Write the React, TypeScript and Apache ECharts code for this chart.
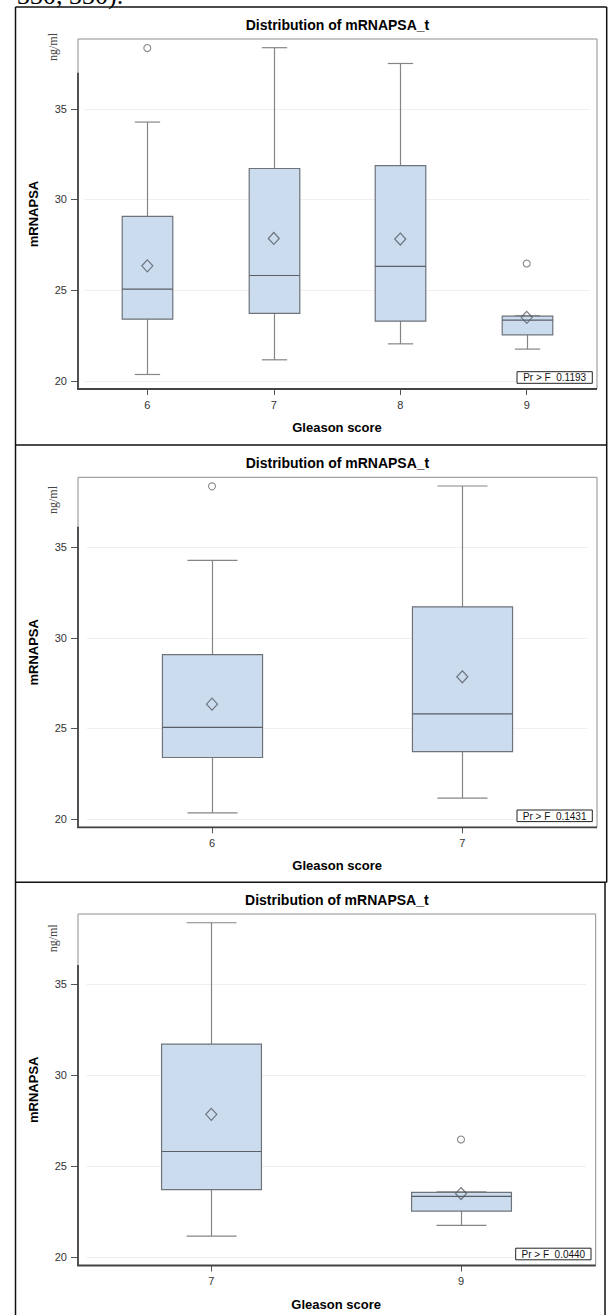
import React, { useEffect, useRef } from 'react';
import * as echarts from 'echarts';

// ---------- data ----------
const panel1Categories = ['6', '7', '8', '9'];
const panel2Categories = ['6', '7'];
const panel3Categories = ['7', '9'];

// [lower whisker, Q1, median, Q3, upper whisker]
const box6 = [20.35, 23.4, 25.06, 29.07, 34.27];
const box7 = [21.16, 23.72, 25.81, 31.71, 38.37];
const box8 = [22.04, 23.29, 26.31, 31.87, 37.5];
const box9 = [21.75, 22.54, 23.35, 23.57, 23.6];

const mean6 = 26.34;
const mean7 = 27.85;
const mean8 = 27.82;
const mean9 = 23.5;

const outliers6 = [38.35];
const outliers7: number[] = [];
const outliers8: number[] = [];
const outliers9 = [26.47];

const prF = ['0.1193', '0.1431', '0.0440'];
const yTicks = [20, 25, 30, 35];
const yMin = 19.55;
const yMax = 38.85;

const titleText = 'Distribution of mRNAPSA_t';
const xName = 'Gleason score';
const yName = 'mRNAPSA';
const unitText = 'ng/ml';
const topFragment = '330, 330).';

const groups: Record<string, { box: number[]; mean: number; outliers: number[] }> = {
  '6': { box: box6, mean: mean6, outliers: outliers6 },
  '7': { box: box7, mean: mean7, outliers: outliers7 },
  '8': { box: box8, mean: mean8, outliers: outliers8 },
  '9': { box: box9, mean: mean9, outliers: outliers9 },
};

// ---------- layout ----------
const FONT = '"Liberation Sans", Arial, Helvetica, sans-serif';
const SERIF = '"Liberation Serif", "Times New Roman", serif';

const layouts = [
  { cats: panel1Categories, gridLeft: 84.07, gridWidth: 505.9, top: 39, height: 350, frameRight: 597, darkTop: 72.7, unitY: 47, titleY: 25 },
  { cats: panel2Categories, gridLeft: 86.85, gridWidth: 500.6, top: 477.3, height: 350, frameRight: 597, darkTop: 526.7, unitY: 500, titleY: 462.7 },
  { cats: panel3Categories, gridLeft: 86.45, gridWidth: 499.4, top: 914, height: 351.5, frameRight: 595.7, darkTop: 965, unitY: 938.3, titleY: 900 },
];
const FRAME_LEFT = 78;

const BOX_FILL = '#CBDCEE';
const BOX_EDGE = '#6F737A';
const WHISKER = '#858585';
const MEDIAN = '#5A5E66';

function renderBox(params: any, api: any) {
  const idx = api.value(0);
  const low = api.coord([idx, api.value(1)]);
  const q1 = api.coord([idx, api.value(2)]);
  const med = api.coord([idx, api.value(3)]);
  const q3 = api.coord([idx, api.value(4)]);
  const high = api.coord([idx, api.value(5)]);
  const band = api.size([1, 0])[0];
  const bw = band * 0.4;
  const cw = band * 0.2;
  const x = Math.round(low[0]) + 0.5;
  const wStyle = { stroke: WHISKER, lineWidth: 1.2, fill: null };
  return {
    type: 'group',
    children: [
      { type: 'line', shape: { x1: x, y1: low[1], x2: x, y2: q1[1] }, style: wStyle },
      { type: 'line', shape: { x1: x, y1: q3[1], x2: x, y2: high[1] }, style: wStyle },
      {
        type: 'rect',
        shape: { x: x - bw / 2, y: q3[1], width: bw, height: q1[1] - q3[1] },
        style: { fill: BOX_FILL, stroke: BOX_EDGE, lineWidth: 1.2 },
      },
      { type: 'line', shape: { x1: x - bw / 2, y1: med[1], x2: x + bw / 2, y2: med[1] }, style: { stroke: MEDIAN, lineWidth: 1.2 } },
      { type: 'line', shape: { x1: x - cw / 2, y1: low[1], x2: x + cw / 2, y2: low[1] }, style: wStyle },
      { type: 'line', shape: { x1: x - cw / 2, y1: high[1], x2: x + cw / 2, y2: high[1] }, style: wStyle },
    ],
  };
}

export default function App() {
  const ref = useRef<HTMLDivElement>(null);

  useEffect(() => {
    if (!ref.current) return;
    const chart = echarts.init(ref.current, undefined, { renderer: 'svg' });

    const grid: any[] = [];
    const xAxis: any[] = [];
    const yAxis: any[] = [];
    const series: any[] = [];
    const graphic: any[] = [];

    layouts.forEach((L, i) => {
      const bottom = L.top + L.height;
      grid.push({ left: L.gridLeft, top: L.top, width: L.gridWidth, height: L.height, containLabel: false });
      xAxis.push({
        type: 'category',
        gridIndex: i,
        data: L.cats,
        boundaryGap: true,
        axisLine: { show: false },
        axisTick: { show: true, alignWithLabel: true, length: 6, lineStyle: { color: '#555', width: 1 } },
        axisLabel: { color: '#333', fontSize: 11, fontFamily: FONT, margin: 10 },
        splitLine: { show: false },
        name: xName,
        nameLocation: 'middle',
        nameGap: 32,
        nameTextStyle: { color: '#000', fontSize: 13, fontWeight: 'bold', fontFamily: FONT },
      });
      yAxis.push({
        type: 'value',
        gridIndex: i,
        min: yMin,
        max: yMax,
        offset: L.gridLeft - FRAME_LEFT,
        axisLine: { show: false },
        axisTick: { show: true, length: 7, customValues: yTicks, lineStyle: { color: '#555', width: 1 } },
        axisLabel: {
          color: '#333',
          fontSize: 11,
          fontFamily: FONT,
          margin: 11,
          customValues: yTicks,
          formatter: (v: number) => (Math.abs(v - Math.round(v / 5) * 5) < 1e-6 ? String(Math.round(v)) : ''),
        },
        splitLine: { show: true, lineStyle: { color: '#EFEFEF', width: 1 } },
        name: yName,
        nameLocation: 'middle',
        nameGap: 38,
        nameTextStyle: { color: '#000', fontSize: 13, fontWeight: 'bold', fontFamily: FONT },
      });

      const boxData = L.cats.map((c, k) => [k, ...groups[c].box]);
      const meanData = L.cats.map((c, k) => [k, groups[c].mean]);
      const outlierData: number[][] = [];
      L.cats.forEach((c, k) => groups[c].outliers.forEach((v) => outlierData.push([k, v])));

      series.push({
        type: 'custom',
        xAxisIndex: i,
        yAxisIndex: i,
        renderItem: renderBox,
        encode: { x: 0, y: [1, 2, 3, 4, 5] },
        data: boxData,
        z: 2,
      });
      series.push({
        type: 'scatter',
        xAxisIndex: i,
        yAxisIndex: i,
        symbol: 'diamond',
        symbolSize: [11, 12],
        itemStyle: { color: 'transparent', borderColor: '#555A62', borderWidth: 1.2 },
        data: meanData,
        z: 3,
      });
      series.push({
        type: 'scatter',
        xAxisIndex: i,
        yAxisIndex: i,
        symbol: 'circle',
        symbolSize: 7,
        itemStyle: { color: 'transparent', borderColor: '#6A6A6A', borderWidth: 1.1 },
        data: outlierData,
        z: 3,
      });

      // plot frame
      graphic.push({
        type: 'rect',
        z: 50,
        shape: { x: FRAME_LEFT, y: L.top, width: L.frameRight - FRAME_LEFT, height: L.height },
        style: { fill: 'none', stroke: '#8E8E8E', lineWidth: 1 },
      });
      graphic.push({
        type: 'line',
        z: 51,
        shape: { x1: FRAME_LEFT, y1: L.darkTop, x2: FRAME_LEFT, y2: bottom },
        style: { stroke: '#444', lineWidth: 1.8 },
      });
      graphic.push({
        type: 'line',
        z: 51,
        shape: { x1: FRAME_LEFT - 0.9, y1: bottom, x2: L.frameRight, y2: bottom },
        style: { stroke: '#444', lineWidth: 1.8 },
      });
      // title
      graphic.push({
        type: 'text',
        z: 60,
        x: (FRAME_LEFT + L.frameRight) / 2,
        y: L.titleY,
        style: { text: titleText, font: `bold 14px ${FONT}`, fill: '#000', align: 'center', verticalAlign: 'middle' },
      });
      // unit label
      graphic.push({
        type: 'text',
        z: 60,
        x: 53,
        y: L.unitY,
        rotation: Math.PI / 2,
        style: { text: unitText, font: `12px ${SERIF}`, fill: '#444', align: 'center', verticalAlign: 'middle' },
      });
      // Pr > F inset
      const bx = L.frameRight - 4.7 - 75.3;
      const by = bottom - 5.7 - 11.6;
      graphic.push({
        type: 'rect',
        z: 60,
        shape: { x: bx, y: by, width: 75.3, height: 11.6 },
        style: { fill: '#fff', stroke: '#222', lineWidth: 1 },
      });
      graphic.push({
        type: 'text',
        z: 61,
        x: bx + 75.3 / 2,
        y: by + 6.1,
        style: { text: `Pr > F  ${prF[i]}`, font: `10px ${FONT}`, fill: '#111', align: 'center', verticalAlign: 'middle' },
      });
    });

    // outer table borders
    const border = { stroke: '#111', lineWidth: 1.5 };
    const lines = [
      [15.5, 7, 606.7, 7],
      [15.5, 7, 15.5, 1315],
      [606.7, 7, 606.7, 882.3],
      [15.5, 445, 606.7, 445],
      [15.5, 882.3, 606.7, 882.3],
      [605, 882.3, 605, 1315],
    ];
    lines.forEach(([x1, y1, x2, y2]) =>
      graphic.push({ type: 'line', z: 70, shape: { x1, y1, x2, y2 }, style: border })
    );
    // fragment of the preceding text line, cut off by the top of the picture
    graphic.push({
      type: 'text',
      z: 70,
      x: 17,
      y: -4.5,
      style: { text: topFragment, font: `26px ${SERIF}`, fill: '#000', align: 'left', verticalAlign: 'middle' },
    });

    chart.setOption({
      animation: false,
      backgroundColor: '#fff',
      grid,
      xAxis,
      yAxis,
      series,
      graphic,
    });

    return () => chart.dispose();
  }, []);

  return <div ref={ref} style={{ position: 'absolute', left: 0, top: 0, width: 610, height: 1315 }} />;
}
